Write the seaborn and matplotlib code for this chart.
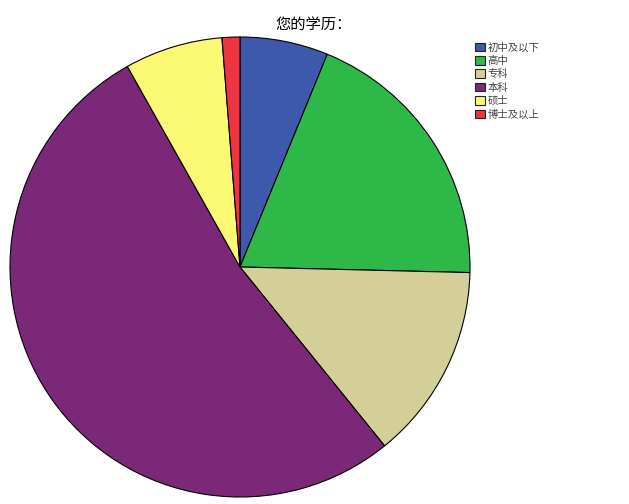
import numpy as np
import pandas as pd
import matplotlib
matplotlib.use("Agg")
import matplotlib.pyplot as plt
import matplotlib.patches as mpatches
import seaborn as sns

categories = ["初中及以下", "高中", "专科", "本科", "硕士", "博士及以上"]
values = [6.2, 19.2, 13.8, 52.7, 6.9, 1.25]
colors = ["#3e58ac", "#2eb848", "#d4cf98", "#7b2878", "#fbf873", "#ef3340"]

sns.set_style("white")
plt.rcParams['font.family'] = ['Noto Sans CJK SC', 'DejaVu Sans']

df = pd.DataFrame({"edu": categories, "pct": values})
pal = sns.color_palette(colors)

fig = plt.figure(figsize=(6.29, 5.04), dpi=100)
fig.patch.set_facecolor("white")

# pie axes: centre (240,267) px, radius 230 px
ax = fig.add_axes([10 / 629, 7 / 504, 460 / 629, 460 / 504])
ax.pie(df["pct"], colors=pal, startangle=90, counterclock=False,
       wedgeprops=dict(edgecolor="black", linewidth=0.8))
ax.set_xlim(-1, 1)
ax.set_ylim(-1, 1)
ax.set_aspect("equal")
ax.axis("off")

fig.text(314 / 629, 1 - 24 / 504, "您的学历：", ha="center", va="center",
         fontsize=11, color="black")

handles = [mpatches.Patch(facecolor=c, edgecolor="#222222", linewidth=0.8, label=l)
           for c, l in zip(pal, categories)]
leg = fig.legend(handles=handles, loc="upper left",
                 bbox_to_anchor=(468 / 629, 1 - 35 / 504),
                 frameon=False, fontsize=7.5, handlelength=0.9, handleheight=0.9,
                 handletextpad=0.3, labelspacing=0.32, borderpad=0.2)
for t in leg.get_texts():
    t.set_color("#444444")

fig.savefig("out.png", dpi=100, facecolor="white")
